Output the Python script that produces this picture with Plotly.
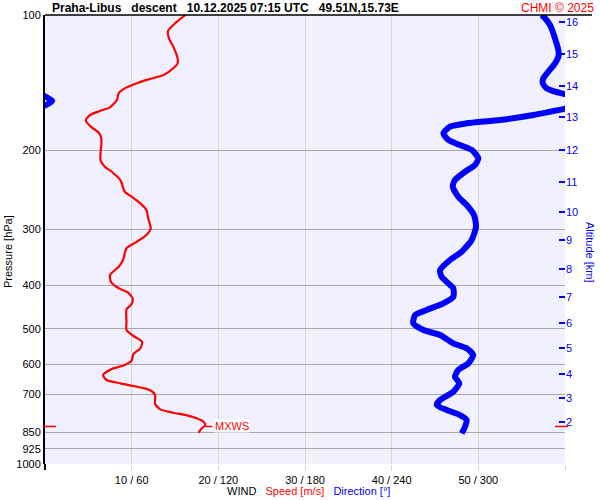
import plotly.graph_objects as go
import math

# ---------------- data ----------------
speed_pressure = [100, 104.4, 108.4, 112.7, 117.6, 124.9, 128.1, 131.4, 136.0, 139.5, 141.9, 145.7,
                  149.4, 154.6, 160.6, 163.4, 167.0, 171.4, 176.7, 182.9, 188.2, 194.8, 203.2, 210.3,
                  217.7, 223.4, 233.1, 247.5, 253.9, 262.7, 271.9, 283.6, 298.6, 309.0, 319.8, 330.8,
                  351.3, 363.6, 379.4, 392.6, 406.1, 415.4, 427.6, 440.3, 452.4, 482.1, 503.0, 518.7,
                  534.2, 552.6, 568.9, 588.8, 601.9, 614.4, 633.6, 650.1, 661.2, 670.4, 684.3, 702.1,
                  735.3, 755.5, 768.7, 779.1, 791.1, 805.1, 818.8, 832.8, 851.8]
speed = [16.2, 15.0, 14.2, 14.3, 14.8, 15.3, 15.3, 14.8, 13.7, 11.7, 10.6, 9.2,
         8.5, 8.3, 7.5, 6.4, 5.2, 4.7, 5.2, 6.2, 6.5, 6.5, 6.4, 6.4,
         6.9, 7.7, 8.7, 9.2, 10.0, 11.0, 11.7, 11.9, 12.2, 11.7, 10.6, 9.4,
         9.0, 8.5, 7.5, 7.6, 8.5, 9.6, 10.1, 10.0, 9.4, 9.4, 9.4, 10.2,
         11.2, 11.0, 10.2, 10.0, 9.2, 7.7, 6.7, 7.1, 8.7, 10.2, 12.1, 12.7,
         12.7, 13.3, 14.8, 16.4, 17.5, 18.3, 18.5, 18.1, 17.7]

# wind direction (None = break where the direction wraps through 360/0)
dir_pressure = [100, 101.7, 105.3, 109.8, 114.7, 119.7, 123.9, 128.1, 133.8, 138.4, 141.9, 145.7, 148.2, 150.7,
                None,
                150.7, 155.4, 160.2,
                None,
                161.3, 167.0, 171.4, 174.3, 177.3, 183.4, 189.8, 194.8, 199.8, 208.5, 215.8, 223.4,
                233.1, 241.2, 253.9, 265.0, 278.9, 296.2, 317.0, 336.7, 351.3, 369.9, 382.7, 399.2,
                406.1, 424.1, 438.6, 453.9, 465.8, 486.1, 503.0, 516.1, 538.6, 552.6, 571.9, 596.8,
                617.6, 639.1, 661.2, 690.2, 720.2, 739.1, 758.3, 778.1, 798.1, 825.9, 854.4]
direction = [343.9, 346.2, 349.6, 351.9, 353.8, 355.4, 355.4, 353.1, 348.4, 345.0, 344.6, 347.3, 353.1, 362,
             None,
             -2, 5, -2,
             None,
             362, 338.1, 315.0, 291.9, 280.4, 275.8, 279.2, 287.3, 295.4, 300.0, 297.7, 290.8,
             283.8, 282.3, 286.1, 291.9, 297.0, 298.4, 295.4, 288.5, 280.4, 273.5, 274.6, 280.4,
             282.7, 282.7, 275.8, 264.2, 256.2, 255.0, 261.9, 273.5, 282.7, 291.9, 296.5, 293.1,
             286.1, 283.8, 286.8, 282.7, 273.5, 271.2, 278.1, 287.3, 291.9, 290.8, 288.5]

pressure_ticks = [100, 200, 300, 400, 500, 600, 700, 850, 925, 1000]
pressure_labels = [str(p) for p in pressure_ticks]

speed_ticks = [10, 20, 30, 40, 50, 60]
wind_labels = ["10 / 60", "20 / 120", "30 / 180", "40 / 240", "50 / 300", ""]

alt_km = [2, 3, 4, 5, 6, 7, 8, 9, 10, 11, 12, 13, 14, 15, 16]
alt_pressure = [807.6, 714.0, 630.2, 552.6, 484.6, 424.1, 367.3, 317.8, 274.3, 235.1,
                199.8, 169.0, 143.7, 122.3, 103.8]

mxws_pressure = 825
mxws_speed = 18.5

# ---------------- layout helpers ----------------
L, R, T, B = 45, 565, 15, 464
def px_x(px):
    return (px - L) / (R - L)
def px_y(py):
    return (B - py) / (B - T)
def p_to_paper(p):
    return 3 - math.log10(p)

FONT = "Arial, Liberation Sans, sans-serif"
RED = "#FF0000"
BLUE = "#0000FF"

fig = go.Figure()
fig.add_trace(go.Scatter(
    x=direction, y=dir_pressure, mode="lines", xaxis="x2", yaxis="y2",
    line=dict(color=BLUE, width=6, shape="spline", smoothing=0.6),
    connectgaps=False, hoverinfo="skip", showlegend=False))
fig.add_trace(go.Scatter(
    x=speed, y=speed_pressure, mode="lines", xaxis="x", yaxis="y",
    line=dict(color=RED, width=2.2, shape="spline", smoothing=0.6),
    hoverinfo="skip", showlegend=False))

fig.update_layout(
    width=600, height=500,
    margin=dict(l=L, r=600 - R, t=T, b=500 - B, pad=0, autoexpand=False),
    paper_bgcolor="white", plot_bgcolor="#F0F0FE",
    font=dict(family=FONT, size=11, color="black"),
    showlegend=False,
    xaxis=dict(range=[0, 60], tickvals=speed_ticks, ticktext=wind_labels,
               showgrid=True, gridcolor="#D6D6D6", gridwidth=1,
               ticks="outside", ticklen=6, tickcolor="#D6D6D6", automargin=False,
               zeroline=False, showline=False, tickfont=dict(size=11, color="black")),
    xaxis2=dict(range=[0, 360], overlaying="x", anchor="y2", visible=False, automargin=False),
    yaxis=dict(type="log", range=[3, 2], tickvals=pressure_ticks, ticktext=pressure_labels,
               showgrid=True, gridcolor="#A8A8A8", gridwidth=1, automargin=False,
               showline=True, linecolor="black", linewidth=2,
               ticks="", zeroline=False, tickfont=dict(size=11, color="black")),
    yaxis2=dict(type="log", range=[3, 2], overlaying="y", side="right", anchor="x",
                tickvals=alt_pressure, ticktext=[str(a) for a in alt_km], automargin=False,
                ticks="inside", ticklen=6, tickwidth=1.5, tickcolor=BLUE,
                showgrid=False, zeroline=False, showline=False,
                tickfont=dict(size=11, color=BLUE)),
)

mx_y = p_to_paper(mxws_pressure)
shapes = [
    dict(type="line", xref="paper", yref="paper", x0=0, x1=px_x(592), y0=1, y1=1,
         line=dict(color="black", width=1.5)),
    dict(type="line", xref="paper", yref="paper", x0=0, x1=0, y0=px_y(470), y1=0,
         line=dict(color="black", width=2)),
    dict(type="line", xref="paper", yref="paper", x0=px_x(43), x1=px_x(56), y0=mx_y, y1=mx_y,
         line=dict(color=RED, width=1.5)),
    dict(type="line", xref="paper", yref="paper", x0=px_x(555), x1=px_x(568), y0=mx_y, y1=mx_y,
         line=dict(color=RED, width=1.5)),
    dict(type="line", xref="x", yref="paper", x0=mxws_speed, x1=mxws_speed + 0.8, y0=mx_y, y1=mx_y,
         line=dict(color=RED, width=1.5)),
]
fig.update_layout(shapes=shapes)

NB = "\u00a0"
annotations = [
    dict(text="<b>Praha-Libus" + NB * 3 + "descent" + NB * 3 + "10.12.2025 07:15 UTC" + NB * 3 + "49.51N,15.73E</b>",
         xref="paper", yref="paper", x=px_x(50), y=px_y(8), xanchor="left", yanchor="middle",
         showarrow=False, font=dict(size=12, color="black", family=FONT)),
    dict(text="CHMI © 2025", xref="paper", yref="paper", x=px_x(596), y=px_y(8),
         xanchor="right", yanchor="middle", showarrow=False, font=dict(size=12, color=RED, family=FONT)),
    dict(text="WIND" + NB * 3 + "<span style='color:#FF0000'>Speed [m/s]</span>" + NB * 3
         + "<span style='color:#0000FF'>Direction [°]</span>",
         xref="paper", yref="paper", x=px_x(225), y=px_y(491), xanchor="left", yanchor="middle",
         showarrow=False, font=dict(size=11, color="black", family=FONT)),
    dict(text="Pressure [hPa]", xref="paper", yref="paper", x=px_x(8), y=px_y(252),
         xanchor="center", yanchor="middle", textangle=-90, showarrow=False,
         font=dict(size=11, color="black", family=FONT)),
    dict(text="Altitude [km]", xref="paper", yref="paper", x=px_x(590), y=px_y(252),
         xanchor="center", yanchor="middle", textangle=90, showarrow=False,
         font=dict(size=11, color=BLUE, family=FONT)),
    dict(text="MXWS", xref="x", yref="paper", x=mxws_speed + 1.0, y=mx_y,
         xanchor="left", yanchor="middle", showarrow=False, bgcolor="white", borderpad=0,
         font=dict(size=11, color=RED, family=FONT)),
]
fig.update_layout(annotations=annotations)

fig.write_html("out.html", config={"displayModeBar": False},
               post_script="document.body.style.margin='0';document.body.style.padding='0';")
